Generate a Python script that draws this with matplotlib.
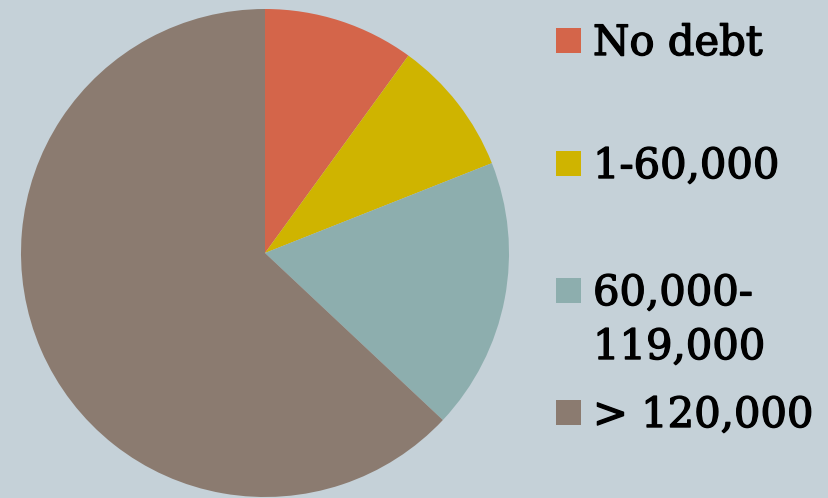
import matplotlib
matplotlib.use("Agg")
import matplotlib.pyplot as plt
from matplotlib.patches import Rectangle
import matplotlib.patheffects as pe

categories = ["No debt", "1-60,000", "60,000-\n119,000", "> 120,000"]
values = [10, 9, 18, 63]
colors = ["#d4654a", "#cfb400", "#8daeae", "#8b7b70"]
bg = "#c5d1d8"

W, H = 829, 498
fig = plt.figure(figsize=(W / 100, H / 100), dpi=100, facecolor=bg)

cx, cy, r = 265, 253, 244
ax = fig.add_axes([(cx - r) / W, (H - cy - r) / H, 2 * r / W, 2 * r / H])
ax.set_facecolor(bg)
ax.pie(values, colors=colors, startangle=90, counterclock=False, radius=1,
       wedgeprops=dict(linewidth=0))
ax.set_xlim(-1, 1)
ax.set_ylim(-1, 1)
ax.axis("off")

# legend
baselines = [55, 178, 305, 427]
line_gap = 54
for lab, col, yb in zip(categories, colors, baselines):
    fig.patches.append(Rectangle((556 / W, (H - yb + 2) / H), 25 / W, 25 / H,
                                 transform=fig.transFigure, facecolor=col,
                                 edgecolor="none"))
    for i, line in enumerate(lab.split("\n")):
        fig.text(593 / W, (H - yb - i * line_gap) / H, line, fontsize=30,
                 family="DejaVu Serif",
                 va="baseline", ha="left", color="#000000",
                 path_effects=[pe.withStroke(linewidth=1.0, foreground="#000000")])

fig.savefig("out.png", dpi=100, facecolor=bg)
